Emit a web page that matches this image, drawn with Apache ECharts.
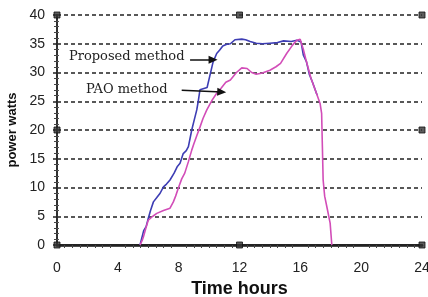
<!DOCTYPE html>
<html>
<head>
<meta charset="utf-8">
<script src="https://cdn.jsdelivr.net/npm/echarts@6/dist/echarts.min.js"></script>
<style>
  html, body { margin: 0; padding: 0; background: #fff; }
  #chart { width: 428px; height: 297px; }
</style>
</head>
<body>
<div id="chart"></div>
<script>
// data: [hour, watts]
const proposed = [
  [5.46, 0], [5.7, 2.5], [5.86, 3.2], [6.0, 4.6], [6.15, 6.0], [6.34, 7.5], [6.55, 8.2],
  [6.78, 9.0], [7.0, 10.1], [7.2, 10.6], [7.43, 11.3], [7.7, 12.5], [7.9, 13.6], [8.09, 14.2],
  [8.3, 15.9], [8.5, 16.4], [8.64, 17.1], [8.86, 20.0], [9.0, 21.5], [9.19, 23.5], [9.3, 25.2],
  [9.4, 27.0], [9.87, 27.4], [10.26, 31.8], [10.5, 33.3], [10.7, 33.9], [10.9, 34.6],
  [11.16, 34.9], [11.4, 35.0], [11.7, 35.7], [12.15, 35.8], [12.4, 35.7], [12.7, 35.4],
  [13.1, 35.1], [13.5, 35.0], [14.0, 35.1], [14.5, 35.2], [14.9, 35.5], [15.4, 35.4],
  [15.77, 35.6], [15.9, 35.9], [16.05, 35.3], [16.2, 33.0], [16.4, 31.9], [16.6, 29.6],
  [16.8, 28.3], [17.1, 26.1]
];
const pao = [
  [5.46, 0], [5.6, 0.8], [5.68, 1.4], [5.85, 3.0], [6.0, 4.3], [6.3, 5.0], [6.56, 5.5],
  [7.0, 6.0], [7.43, 6.4], [7.65, 7.5], [7.8, 8.5], [7.98, 9.9], [8.2, 11.5], [8.4, 12.5],
  [8.64, 14.5], [8.86, 16.5], [9.0, 17.6], [9.19, 19.0], [9.4, 20.5], [9.6, 22.0],
  [9.85, 23.5], [10.2, 25.2], [10.5, 26.4], [10.8, 27.3], [11.1, 28.3], [11.4, 28.7],
  [11.8, 30.0], [12.15, 30.8], [12.5, 30.7], [12.8, 30.0], [13.1, 29.7], [13.5, 29.9],
  [14.0, 30.4], [14.4, 31.0], [14.7, 31.6], [15.1, 33.3], [15.5, 34.8], [15.77, 35.6],
  [15.99, 35.8], [16.2, 34.0], [16.4, 31.9], [16.7, 29.0], [17.1, 26.1], [17.3, 24.6],
  [17.4, 22.9], [17.45, 17.1], [17.5, 11.3], [17.6, 8.5], [17.74, 6.7], [17.96, 3.8],
  [18.07, 0]
];
// arrows from the labels to the curves
const proposedArrow = [[8.75, 32.2], [10.26, 32.2]];
const paoArrow = [[8.2, 26.9], [10.83, 26.6]];
// little square markers on the frame
const frameMarks = [[0, 0], [12, 0], [24, 0], [0, 20], [24, 20], [0, 40], [12, 40], [24, 40]];

const tickFont = "'Liberation Sans Narrow', 'Liberation Sans', sans-serif";

const chart = echarts.init(document.getElementById("chart"), null, { renderer: "canvas" });

chart.setOption({
  animation: false,
  grid: { left: 57, right: 6, top: 15, bottom: 52, containLabel: false, outerBoundsMode: "none" },
  xAxis: [
    {
      type: "value", min: 0, max: 24, interval: 4,
      name: "Time hours", nameLocation: "middle", nameGap: 34,
      nameTextStyle: { fontFamily: "Liberation Sans", fontWeight: "bold", fontSize: 18, color: "#111" },
      axisLine: { show: true, lineStyle: { color: "#111", width: 2.5 } },
      axisTick: { show: false },
      minorTick: { show: true, splitNumber: 8, length: 3, lineStyle: { color: "#444" } },
      axisLabel: { margin: 16, fontFamily: tickFont, fontSize: 14, color: "#222" },
      splitLine: { show: false }
    },
    {
      type: "value", position: "top", min: 0, max: 24, interval: 4,
      axisLine: { show: true, lineStyle: { color: "#222", width: 2, type: [2, 1] } },
      axisTick: { show: false }, axisLabel: { show: false }, splitLine: { show: false }
    }
  ],
  yAxis: [
    {
      type: "value", min: 0, max: 40, interval: 5,
      name: "power watts", nameLocation: "middle", nameGap: 37, nameRotate: 90,
      nameTextStyle: { fontFamily: "Liberation Sans", fontWeight: "bold", fontSize: 13, color: "#111" },
      axisLine: { show: true, lineStyle: { color: "#222", width: 2, type: [2, 1] } },
      axisTick: { show: true, length: 4, inside: false, lineStyle: { color: "#222", width: 1.5 } },
      minorTick: { show: true, splitNumber: 5, length: 3, lineStyle: { color: "#444" } },
      axisLabel: { margin: 12, fontFamily: tickFont, fontSize: 14, color: "#222" },
      splitLine: { show: true, lineStyle: { color: "#222", width: 1.5, type: [4, 3] } }
    },
    {
      type: "value", position: "right", min: 0, max: 40, interval: 5,
      axisLine: { show: true, lineStyle: { color: "#333", width: 1.5, type: [2, 1] } },
      axisTick: { show: false },
      minorTick: { show: true, splitNumber: 5, length: 2, lineStyle: { color: "#555" } },
      axisLabel: { show: false }, splitLine: { show: false }
    }
  ],
  series: [
    {
      name: "Proposed method", type: "line", data: proposed,
      showSymbol: false, lineStyle: { color: "#3d3db4", width: 1.6 }, z: 3,
      markLine: {
        silent: true, symbol: ["none", "triangle"], symbolSize: [8, 9],
        label: { show: false },
        lineStyle: { color: "#111", width: 1.5, type: "solid" },
        data: [[{ coord: proposedArrow[0] }, { coord: proposedArrow[1] }]]
      }
    },
    {
      name: "PAO method", type: "line", data: pao,
      showSymbol: false, lineStyle: { color: "#d24db8", width: 1.6 }, z: 4,
      markLine: {
        silent: true, symbol: ["none", "triangle"], symbolSize: [8, 9],
        label: { show: false },
        lineStyle: { color: "#111", width: 1.5, type: "solid" },
        data: [[{ coord: paoArrow[0] }, { coord: paoArrow[1] }]]
      }
    },
    {
      type: "scatter", data: frameMarks, symbol: "rect", symbolSize: 6,
      itemStyle: { color: "#333", borderColor: "#111", borderWidth: 1 },
      clip: false, silent: true, z: 5
    }
  ],
  graphic: [
    {
      type: "text", left: 69, top: 50,
      style: { text: "Proposed method", font: "13px 'DejaVu Serif', serif", fill: "#222" }
    },
    {
      type: "text", left: 86, top: 83,
      style: { text: "PAO method", font: "13px 'DejaVu Serif', serif", fill: "#222" }
    }
  ]
});
</script>
</body>
</html>
